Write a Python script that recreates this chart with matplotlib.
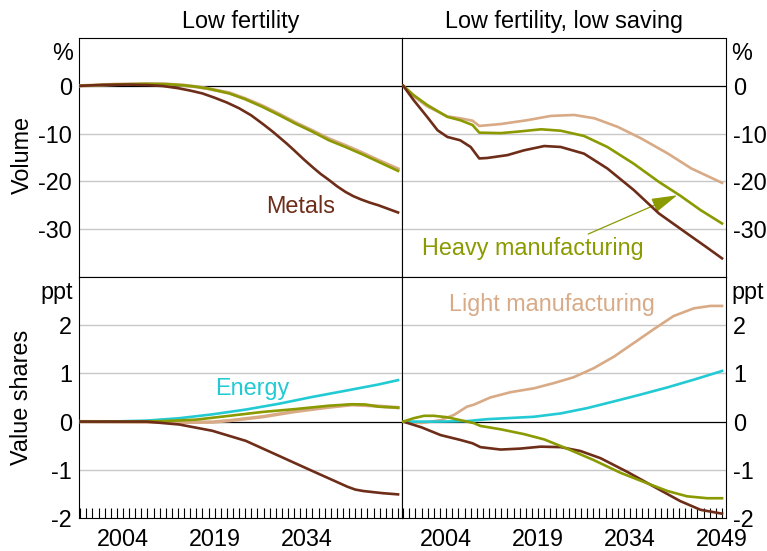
import matplotlib
matplotlib.use("Agg")
import matplotlib.pyplot as plt
from matplotlib.ticker import FixedLocator, NullFormatter

plt.rcParams['font.family'] = ['Liberation Sans', 'DejaVu Sans']

# ---------------- data ----------------
# Top-left: Low fertility, volume (%)
metals_tl_years = [1997, 2001, 2005, 2008, 2010.5, 2013, 2015, 2017, 2019, 2021, 2023, 2025, 2027, 2028.5, 2030.8, 2032, 2033.5, 2035, 2036.3, 2037.7, 2039, 2040.4, 2041.7, 2043, 2044.4, 2045.8, 2047.5, 2049]
metals_tl_vals = [0, 0.2, 0.25, 0.15, -0.05, -0.5, -1.0, -1.6, -2.5, -3.5, -4.7, -6.2, -8.1, -9.6, -12.1, -13.5, -15.3, -17, -18.4, -19.7, -21.0, -22.2, -23.1, -23.8, -24.45, -25, -25.8, -26.5]
heavy_tl_years = [1997, 2003, 2008, 2011, 2014, 2016, 2018, 2021.4, 2024, 2026.8, 2029.5, 2032.2, 2035, 2037.7, 2040.4, 2043.1, 2045.8, 2049]
heavy_tl_vals = [0, 0.3, 0.4, 0.35, 0.1, -0.2, -0.6, -1.6, -2.8, -4.4, -6.1, -7.9, -9.6, -11.4, -12.8, -14.3, -15.9, -17.8]
light_tl_years = heavy_tl_years
light_tl_vals = [0, 0.3, 0.4, 0.35, 0.1, -0.2, -0.6, -1.5, -2.7, -4.2, -5.9, -7.7, -9.4, -11.1, -12.5, -14.0, -15.6, -17.4]

# Top-right: Low fertility, low saving, volume (%)
metals_tr_years = [1997, 1998.7, 2000.9, 2002.6, 2004.2, 2006.3, 2008, 2009.4, 2010.7, 2014, 2016.7, 2020, 2022.7, 2026.5, 2030.3, 2034.6, 2038.7, 2043.3, 2046.4, 2049]
metals_tr_vals = [0, -3.0, -6.5, -9.3, -10.7, -11.4, -12.8, -15.2, -15.1, -14.5, -13.5, -12.6, -12.8, -14.2, -17.3, -21.8, -26.7, -30.9, -33.7, -36.1]
heavy_tr_years = [1997, 1998.7, 2000.9, 2004.2, 2006.3, 2008.3, 2009.4, 2012.9, 2015.6, 2019.5, 2022.7, 2026.5, 2030.3, 2034.6, 2038.7, 2042.2, 2045.5, 2049]
heavy_tr_vals = [0, -1.95, -4.0, -6.5, -7.2, -8.2, -9.8, -9.9, -9.6, -9.1, -9.4, -10.5, -12.8, -16.3, -20.1, -23.0, -26.0, -28.8]
light_tr_years = [1997, 1998.7, 2000.9, 2004.2, 2006.3, 2008.3, 2009.4, 2012.9, 2017.2, 2021.1, 2024.9, 2028.2, 2032, 2035.8, 2040.2, 2044, 2049]
light_tr_vals = [0, -2.2, -4.3, -6.4, -6.8, -7.3, -8.4, -8.0, -7.2, -6.3, -6.1, -6.8, -8.6, -11.0, -14.2, -17.3, -20.3]

# Bottom-left: Low fertility, value shares (ppt)
energy_bl_years = [1997, 2003, 2007.8, 2013.2, 2018.6, 2024.1, 2029.5, 2034.9, 2040.4, 2045.8, 2049]
energy_bl_vals = [0, 0.005, 0.02, 0.07, 0.15, 0.25, 0.37, 0.51, 0.64, 0.77, 0.86]
heavy_bl_years = [1997, 2005, 2010.5, 2015.9, 2021.4, 2026.8, 2032.2, 2037.7, 2041.5, 2043.6, 2045.8, 2049]
heavy_bl_vals = [0, 0.0, 0.01, 0.04, 0.12, 0.2, 0.26, 0.33, 0.36, 0.355, 0.31, 0.29]
light_bl_years = [1997, 2008, 2013.2, 2018.6, 2021.4, 2026.8, 2032.2, 2037.7, 2041.5, 2044.7, 2049]
light_bl_vals = [0, -0.01, -0.015, -0.01, 0.02, 0.10, 0.21, 0.30, 0.35, 0.33, 0.29]
metals_bl_years = [1997, 2007.8, 2013.2, 2018.6, 2024.1, 2029.5, 2034.9, 2039.3, 2040.7, 2042, 2043.3, 2044.7, 2046.5, 2049]
metals_bl_vals = [0, 0, -0.06, -0.19, -0.40, -0.71, -1.02, -1.27, -1.35, -1.41, -1.44, -1.46, -1.485, -1.51]

# Bottom-right: Low fertility, low saving, value shares (ppt)
light_br_years = [1997, 2000, 2003.1, 2005.3, 2007.4, 2008.5, 2011.2, 2014.5, 2018.3, 2021.6, 2024.8, 2028.1, 2031.4, 2034.6, 2037.9, 2041.1, 2044.4, 2047.1, 2049]
light_br_vals = [0, -0.03, 0.03, 0.14, 0.31, 0.35, 0.5, 0.61, 0.69, 0.80, 0.92, 1.11, 1.35, 1.63, 1.92, 2.19, 2.35, 2.40, 2.40]
energy_br_years = [1997, 2003, 2007.4, 2010.7, 2018.3, 2022.7, 2027, 2031.4, 2035.7, 2040.1, 2044.4, 2049]
energy_br_vals = [0, 0.0, 0.01, 0.05, 0.1, 0.17, 0.28, 0.42, 0.56, 0.71, 0.87, 1.05]
heavy_br_years = [1997, 1998.7, 2000.4, 2002, 2004.2, 2006.3, 2008.5, 2009.6, 2012.9, 2016.7, 2020, 2023.7, 2028.1, 2032.4, 2036.8, 2040.1, 2043.3, 2046.6, 2049]
heavy_br_vals = [0, 0.07, 0.12, 0.12, 0.09, 0.03, -0.03, -0.09, -0.16, -0.26, -0.37, -0.56, -0.80, -1.06, -1.28, -1.44, -1.55, -1.59, -1.59]
metals_br_years = [1997, 2000, 2003.1, 2006.3, 2008.3, 2009.6, 2012.9, 2016.1, 2019.4, 2022.7, 2025.9, 2029.2, 2033.5, 2037.9, 2042.2, 2045.5, 2049]
metals_br_vals = [0, -0.12, -0.28, -0.38, -0.45, -0.53, -0.58, -0.56, -0.52, -0.53, -0.61, -0.76, -1.04, -1.35, -1.65, -1.83, -1.91]

titles = ["Low fertility", "Low fertility, low saving"]
row_labels = ["Volume", "Value shares"]
units = ["%", "ppt"]
vol_ticks = [0, -10, -20, -30]
share_ticks = [-2, -1, 0, 1, 2]
left_xticks = [2004, 2019, 2034]
right_xticks = [2004, 2019, 2034, 2049]
minor_years = list(range(1997, 2050))

# ---------------- style ----------------
C_METALS = '#6e2d18'
C_HEAVY = '#8a9a00'
C_LIGHT = '#d8aa86'
C_ENERGY = '#22cad4'
FS = 16.8
LW = 1.9

fig = plt.figure(figsize=(7.67, 5.51), dpi=100)
W, H = 767, 551
def box(x0, y0, x1, y1):
    return [x0 / W, 1 - y1 / H, (x1 - x0) / W, (y1 - y0) / H]

ax_tl = fig.add_axes(box(79, 38, 402, 277))
ax_tr = fig.add_axes(box(402, 38, 726, 277))
ax_bl = fig.add_axes(box(79, 277, 402, 518))
ax_br = fig.add_axes(box(402, 277, 726, 518))

XLIM = (1996.8, 2049.65)

for ax, top, right in [(ax_tl, True, False), (ax_tr, True, True), (ax_bl, False, False), (ax_br, False, True)]:
    ax.set_xlim(*XLIM)
    for s in ax.spines.values():
        s.set_color('black')
        s.set_linewidth(0.8)
    if top:
        ax.set_ylim(-40, 10)
        ax.set_yticks(vol_ticks)
        ax.set_yticklabels([str(v) for v in vol_ticks])
        ax.set_xticks([])
        grid_vals = [-10, -20, -30]
    else:
        ax.set_ylim(-2, 3)
        ax.set_yticks(share_ticks)
        ax.set_yticklabels([str(v) for v in share_ticks])
        ax.set_xticks(right_xticks if right else left_xticks)
        ax.xaxis.set_minor_locator(FixedLocator(minor_years))
        ax.xaxis.set_minor_formatter(NullFormatter())
        ax.tick_params(axis='x', which='both', direction='in', length=7, width=0.8,
                       labelsize=FS, pad=7.5, top=False)
        grid_vals = [-1, 1, 2]
    for g in grid_vals:
        ax.axhline(g, color='#c8c8c8', lw=1.0, zorder=0.5)
    ax.axhline(0, color='black', lw=0.9, zorder=1)
    ax.tick_params(axis='y', which='both', length=0, labelsize=FS, pad=5)
    if right:
        ax.yaxis.tick_right()
        ax.text(1.0 + 5 / 324, 0.985, units[0] if top else units[1], transform=ax.transAxes,
                ha='left', va='top', fontsize=FS)
    else:
        ax.text(-6 / 323, 0.985, units[0] if top else units[1], transform=ax.transAxes,
                ha='right', va='top', fontsize=FS)

ax_tl.set_title(titles[0], fontsize=FS, pad=7)
ax_tr.set_title(titles[1], fontsize=FS, pad=7)

# lines
ax_tl.plot(light_tl_years, light_tl_vals, color=C_LIGHT, lw=LW + 0.6, zorder=3)
ax_tl.plot(heavy_tl_years, heavy_tl_vals, color=C_HEAVY, lw=LW, zorder=4)
ax_tl.plot(metals_tl_years, metals_tl_vals, color=C_METALS, lw=LW, zorder=5)

ax_tr.plot(light_tr_years, light_tr_vals, color=C_LIGHT, lw=LW, zorder=3)
ax_tr.plot(heavy_tr_years, heavy_tr_vals, color=C_HEAVY, lw=LW, zorder=4)
ax_tr.plot(metals_tr_years, metals_tr_vals, color=C_METALS, lw=LW, zorder=5)

ax_bl.plot(light_bl_years, light_bl_vals, color=C_LIGHT, lw=LW + 0.6, zorder=3)
ax_bl.plot(energy_bl_years, energy_bl_vals, color=C_ENERGY, lw=LW, zorder=4)
ax_bl.plot(heavy_bl_years, heavy_bl_vals, color=C_HEAVY, lw=LW, zorder=4)
ax_bl.plot(metals_bl_years, metals_bl_vals, color=C_METALS, lw=LW, zorder=5)

ax_br.plot(light_br_years, light_br_vals, color=C_LIGHT, lw=LW, zorder=3)
ax_br.plot(energy_br_years, energy_br_vals, color=C_ENERGY, lw=LW, zorder=4)
ax_br.plot(metals_br_years, metals_br_vals, color=C_METALS, lw=LW, zorder=4)
ax_br.plot(heavy_br_years, heavy_br_vals, color=C_HEAVY, lw=LW, zorder=5)

# labels
ax_tl.text(2033.0, -25.3, "Metals", color=C_METALS, fontsize=FS, ha='center', va='center')
ax_tr.annotate("Heavy manufacturing", xy=(2041.7, -22.9), xytext=(2000.1, -34.0),
               color=C_HEAVY, fontsize=FS, ha='left', va='center',
               arrowprops=dict(arrowstyle='-|>,head_length=1.6,head_width=0.45',
                               color=C_HEAVY, lw=0.9, mutation_scale=10,
                               shrinkA=0, shrinkB=0, relpos=(0.72, 1.0)))
ax_br.text(2021.2, 2.43, "Light manufacturing", color=C_LIGHT, fontsize=FS, ha='center', va='center')
ax_bl.text(2025.2, 0.69, "Energy", color=C_ENERGY, fontsize=FS, ha='center', va='center')

fig.text(22 / W, 1 - 155 / H, row_labels[0], rotation=90, ha='center', va='center', fontsize=FS)
fig.text(22 / W, 1 - 397 / H, row_labels[1], rotation=90, ha='center', va='center', fontsize=FS)

fig.savefig("out.png", dpi=100)
